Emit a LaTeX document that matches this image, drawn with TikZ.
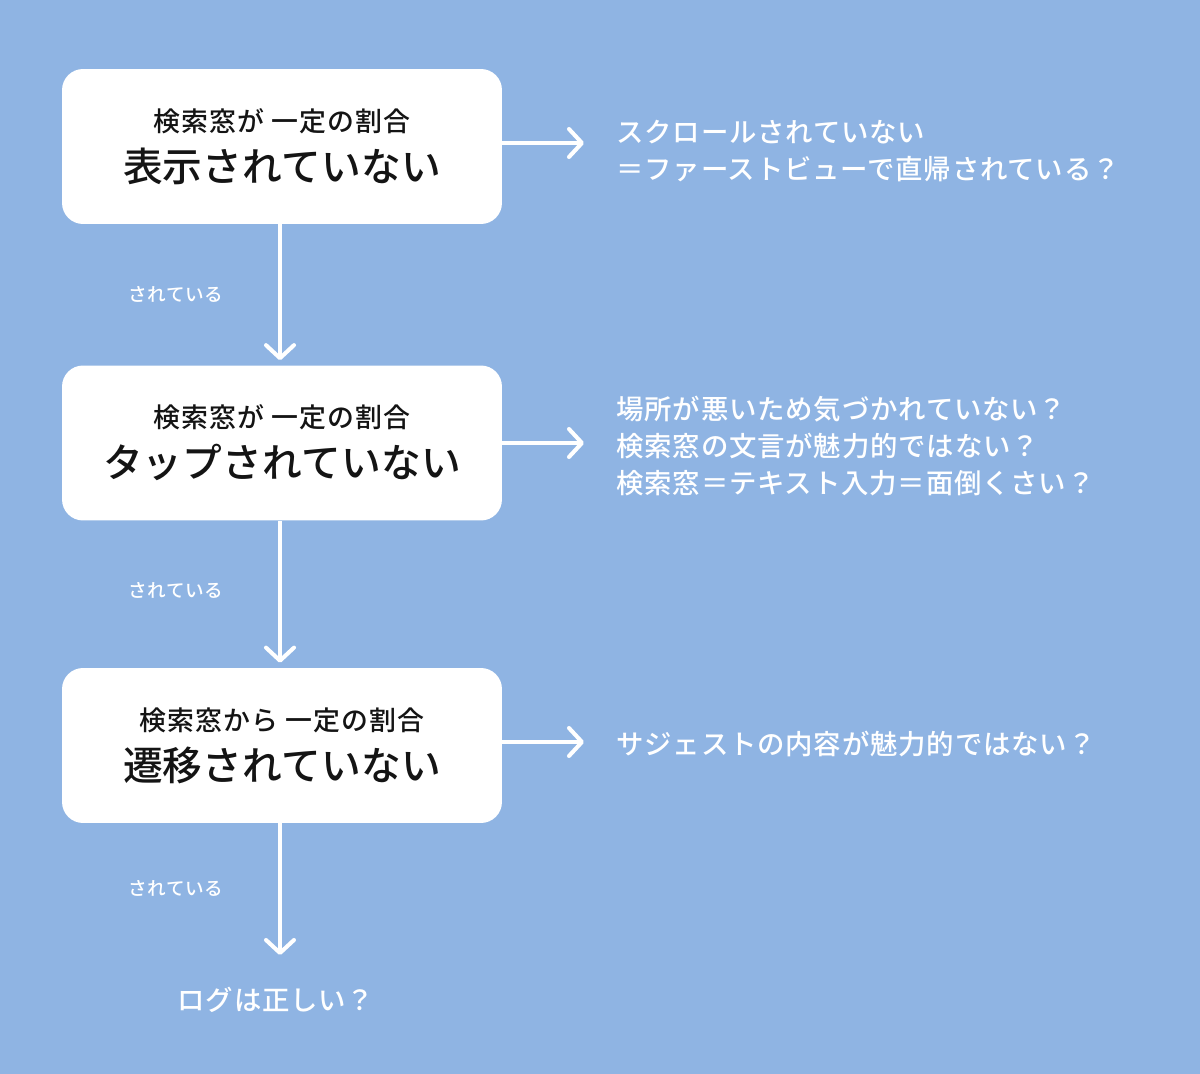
\documentclass[tikz,border=0pt]{standalone}
\usepackage{fontspec}
\usepackage{tikz}
\usetikzlibrary{arrows.meta, positioning, calc}
\newfontfamily\jp{Noto Sans CJK JP}[BoldFont={Noto Sans CJK JP Medium}, LetterSpace=3]
\newfontfamily\jpwide{Noto Sans CJK JP Medium}[LetterSpace=4.5]
\newfontfamily\jpmain{Noto Sans CJK JP Medium}[LetterSpace=0.5]
\definecolor{mybg}{RGB}{143,180,227}
\definecolor{myink}{RGB}{20,20,20}
\tikzset{
  stepbox/.style={rectangle, fill=white, draw=none, rounded corners=0.42cm,
    minimum width=8.8cm, minimum height=3.1cm, align=center, text=myink, font=\jp},
  arrow/.style={-{Straight Barb[length=0.26cm, width=0.56cm, line join=round, line cap=round]},
    line width=2.3pt, color=white},
  note/.style={text=white, font=\jp\bfseries\fontsize{15.6pt}{20.8pt}\selectfont, align=left, anchor=west, inner sep=0pt},
  yes/.style={text=white, font=\jp\bfseries\fontsize{10.6pt}{12pt}\selectfont, inner sep=0pt}
}
\newcommand{\toptext}[1]{{\jpwide\fontsize{15.3pt}{18pt}\selectfont #1}}
\newcommand{\maintext}[1]{{\jpmain\fontsize{22.6pt}{26pt}\selectfont #1}}

\begin{document}
\begin{tikzpicture}[x=0.02cm, y=-0.02cm]
  \fill[mybg] (0,0) rectangle (1200,1074);
  \useasboundingbox (0,0) rectangle (1200,1074);

  % Boxes
  \node[stepbox] (b1) at (282,146.5) {\toptext{検索窓が 一定の割合}\\[7pt]\maintext{表示されていない}};
  \node[stepbox] (b2) at (282,443) {\toptext{検索窓が 一定の割合}\\[7pt]\maintext{タップされていない}};
  \node[stepbox] (b3) at (282,745.5) {\toptext{検索窓から 一定の割合}\\[7pt]\maintext{遷移されていない}};

  % Down arrows
  \draw[arrow, shorten >=0.1cm] (b1.south -| 280,0) -- (b2.north -| 280,0);
  \draw[arrow, shorten >=0.1cm] (b2.south -| 280,0) -- (b3.north -| 280,0);
  \coordinate (endlog) at (280,955);
  \draw[arrow] (b3.south -| 280,0) -- (endlog);
  \node[yes] (y1) at (176,294) {されている};
  \node[yes] (y2) at (176,590) {されている};
  \node[yes] (y3) at (176,888) {されている};
  \node[text=white, font=\jp\bfseries\fontsize{15.6pt}{18pt}\selectfont, inner sep=0pt] (log) at (276,1000) {ログは正しい？};

  % Side notes
  \coordinate (e1) at (584,143);
  \coordinate (e2) at (584,443);
  \coordinate (e3) at (584,742);
  \draw[arrow] (b1.east |- e1) -- (e1);
  \draw[arrow] (b2.east |- e2) -- (e2);
  \draw[arrow] (b3.east |- e3) -- (e3);
  \node[note] (n1) at (616,151) {スクロールされていない\\＝ファーストビューで直帰されている？};
  \node[note] (n2) at (616,446) {場所が悪いため気づかれていない？\\検索窓の文言が魅力的ではない？\\検索窓＝テキスト入力＝面倒くさい？};
  \node[note] (n3) at (616,744) {サジェストの内容が魅力的ではない？};
\end{tikzpicture}
\end{document}
